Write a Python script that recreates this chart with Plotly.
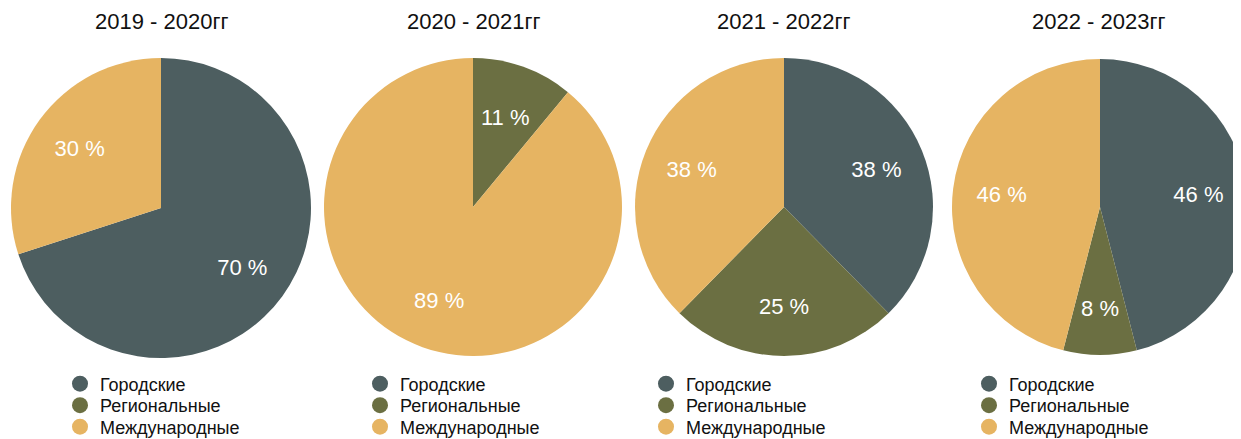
import plotly.graph_objects as go

categories = ["Городские", "Региональные", "Международные"]
colors = ["#4d5e60", "#6b6f42", "#e6b462"]
periods = ["2019 - 2020гг", "2020 - 2021гг", "2021 - 2022гг", "2022 - 2023гг"]
values_2019 = [70, 0, 30]
values_2020 = [0, 11, 89]
values_2021 = [38, 25, 38]
values_2022 = [46, 8, 46]
all_values = [values_2019, values_2020, values_2021, values_2022]

W, H = 1241, 439
OX, OY = 8, 8  # page body margin offset
FONT = "Liberation Sans, Arial, Helvetica, sans-serif"
# pie boxes in window pixels (left, right, top, bottom)
boxes = [(10, 312, 58, 358), (324, 622, 58, 356), (635, 933, 58, 356), (952, 1248, 59, 355)]
title_cx = [161, 473, 784, 1098]
legend_text_x = [101, 401, 687, 1010]
legend_rows_y = [384, 405.5, 427]
SMALL_SLICE = 16      # slices below this share get their label from a smaller overlay
SMALL_SCALE = 0.855   # radius factor of that overlay


def px_x(x):
    return (x - OX) / W


def px_y(y):
    return 1 - (y - OY) / H


def domain_of(box, scale=1.0):
    l, r, t, b = box
    cx, cy = (l + r) / 2, (t + b) / 2
    hw, hh = (r - l) / 2 * scale, (b - t) / 2 * scale
    return dict(x=[px_x(cx - hw), px_x(cx + hw)], y=[px_y(cy + hh), px_y(cy - hh)])


def overlay(vals, texts, dom, hole):
    return go.Pie(
        labels=categories, values=vals, hole=hole, text=texts,
        textinfo="text", textposition="inside", insidetextorientation="horizontal",
        textfont=dict(color="white", size=22, family=FONT),
        marker=dict(colors=["rgba(0,0,0,0)"] * 3, line=dict(width=0)),
        sort=False, direction="clockwise", rotation=0,
        showlegend=False, hoverinfo="skip", domain=dom,
    )


fig = go.Figure()
for i, (vals, box) in enumerate(zip(all_values, boxes)):
    dom = domain_of(box)
    total = sum(vals)
    fig.add_trace(go.Pie(
        labels=categories, values=vals, textinfo="none",
        marker=dict(colors=colors, line=dict(width=0)),
        sort=False, direction="clockwise", rotation=0,
        showlegend=False, hoverinfo="label+percent", domain=dom,
    ))
    big = [f"{v} %" if v and v / total * 100 >= SMALL_SLICE else "" for v in vals]
    small = [f"{v} %" if v and v / total * 100 < SMALL_SLICE else "" for v in vals]
    fig.add_trace(overlay(vals, big, dom, 0.34))
    if any(small):
        fig.add_trace(overlay(vals, small, domain_of(box, SMALL_SCALE), 0))
    fig.add_annotation(
        text=periods[i], x=px_x(title_cx[i]), y=px_y(22), xref="paper", yref="paper",
        xanchor="center", yanchor="middle", showarrow=False,
        font=dict(size=22, color="#111111", family=FONT),
    )

layout_legends = {}
k = 0
for i in range(4):
    for j, (cat, col) in enumerate(zip(categories, colors)):
        k += 1
        key = "legend" if k == 1 else f"legend{k}"
        fig.add_trace(go.Scatter(
            x=[None], y=[None], mode="markers", name=cat,
            marker=dict(size=16, color=col, symbol="circle"),
            legend=key, showlegend=True, hoverinfo="skip",
        ))
        layout_legends[key] = dict(
            x=px_x(legend_text_x[i] - 41), y=px_y(legend_rows_y[j]),
            xanchor="left", yanchor="middle",
            font=dict(size=18, color="#111111", family=FONT),
            bgcolor="rgba(0,0,0,0)", borderwidth=0,
            itemclick=False, itemdoubleclick=False,
        )

fig.update_layout(
    width=W, height=H, margin=dict(l=0, r=0, t=0, b=0, autoexpand=False),
    paper_bgcolor="white", plot_bgcolor="white",
    xaxis=dict(visible=False), yaxis=dict(visible=False),
    **layout_legends,
)
fig.write_html("out.html")
